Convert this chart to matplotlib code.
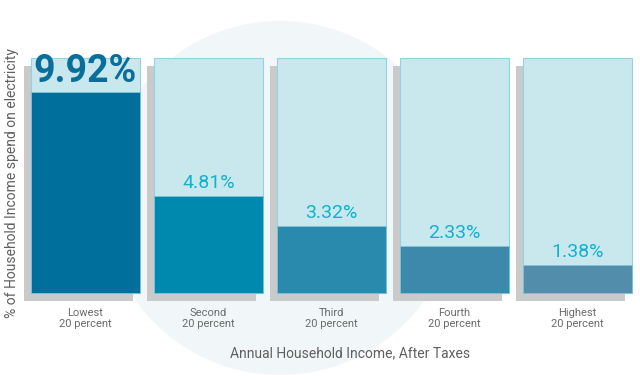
import matplotlib.pyplot as plt
from matplotlib.patches import Circle

categories = ["Lowest\n20 percent", "Second\n20 percent", "Third\n20 percent",
              "Fourth\n20 percent", "Highest\n20 percent"]
values = [9.92, 4.81, 3.32, 2.33, 1.38]
labels = ["9.92%", "4.81%", "3.32%", "2.33%", "1.38%"]
bar_colors = ["#006F9C", "#0089AE", "#2A8AAD", "#3C89AB", "#528EAC"]
full_height = 11.6

font = ["Liberation Sans Narrow", "Roboto", "DejaVu Sans"]

fig = plt.figure(figsize=(6.4, 3.84), dpi=100)
ax = fig.add_axes([0, 0, 1, 1])
ax.set_xlim(-0.695, 4.508)
ax.set_ylim(-4.494, 14.469)
ax.axis("off")

# faint background circle
ax.add_patch(Circle((2.8, 1.86), 1.77, transform=fig.dpi_scale_trans,
                    facecolor="#F1F7F8", edgecolor="none", zorder=0))

w = 109 / 123
dx = -7 / 123
dy = -8 / 20.25
x = list(range(len(values)))

ax.bar([i + dx for i in x], full_height, width=w, bottom=dy,
       color="#C9CBCB", zorder=1)
ax.bar(x, full_height, width=w, color="#C9E8EE", edgecolor="#92D3E0",
       linewidth=0.8, zorder=2)
ax.bar(x, values, width=w, color=bar_colors, edgecolor="#7CC7D9",
       linewidth=0.6, zorder=3)

for i, (v, t) in enumerate(zip(values, labels)):
    if i == 0:
        ax.text(i, 10.95, t, ha="center", va="center", fontsize=27,
                fontweight="bold", color="#0A6E9B", family="Roboto", zorder=4)
    else:
        ax.text(i, v + 0.18, t, ha="center", va="bottom", fontsize=14,
                color="#12B1CE", family="Roboto", zorder=4)
    ax.text(i, -0.75, categories[i], ha="center", va="top", fontsize=8,
            color="#6B6B6B", family=font, linespacing=1.15, zorder=4)

ax.text(2.15, -3.0, "Annual Household Income, After Taxes", ha="center",
        va="center", fontsize=10, color="#5F5F5F", family=font, zorder=4)
fig.text(12 / 640, 1 - 183 / 384, "% of Household Income spend on electricity",
         rotation=90, ha="center", va="center", fontsize=10, color="#5F5F5F",
         family=font)

fig.savefig("out.png", dpi=100)
